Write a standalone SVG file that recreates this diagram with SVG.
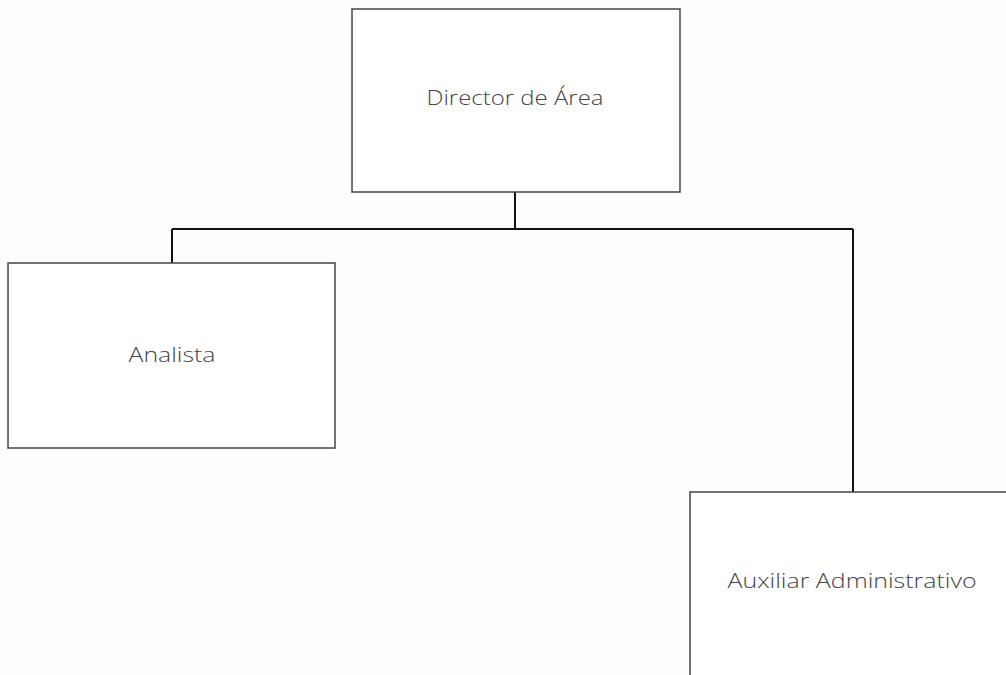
<svg xmlns="http://www.w3.org/2000/svg" width="1006" height="675" viewBox="0 0 1006 675">
<style>
.box{fill:#ffffff;stroke:#444;stroke-width:1.5}
.lbl{font-family:"Open Sans","Liberation Sans",sans-serif;font-weight:300;font-size:20px;fill:#444;text-anchor:middle}
.conn{fill:none;stroke:#111;stroke-width:2}
</style>
<rect width="1006" height="675" fill="#fdfdfd"/>
<g id="connectors">
<path class="conn" d="M515,192 V229 M172,229 H853 M172,229 V263 M853,229 V492"/>
</g>
<g id="director">
<rect class="box" x="352" y="9" width="328" height="183"/>
<text class="lbl" x="515" y="105" textLength="177" lengthAdjust="spacingAndGlyphs">Director de Área</text>
</g>
<g id="analista">
<rect class="box" x="8" y="263" width="327" height="185"/>
<text class="lbl" x="172" y="362" textLength="87" lengthAdjust="spacingAndGlyphs">Analista</text>
</g>
<g id="auxiliar">
<rect class="box" x="690" y="492" width="330" height="200"/>
<text class="lbl" x="852" y="588" textLength="249" lengthAdjust="spacingAndGlyphs">Auxiliar Administrativo</text>
</g>
</svg>
